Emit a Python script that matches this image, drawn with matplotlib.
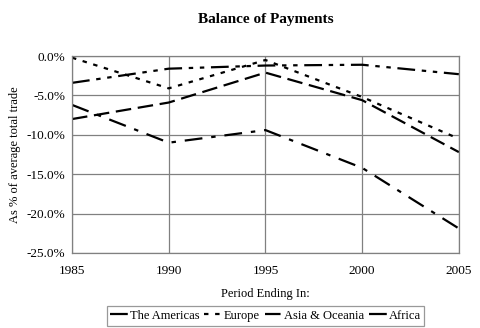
import matplotlib
matplotlib.use("Agg")
import matplotlib.pyplot as plt
from matplotlib.ticker import FuncFormatter

years = [1985, 1990, 1995, 2000, 2005]
americas = [-3.4, -1.6, -1.2, -1.1, -2.3]
europe = [-0.2, -4.1, -0.5, -5.2, -10.5]
asia = [-8.0, -5.9, -2.1, -5.6, -12.2]
africa = [-6.2, -11.0, -9.4, -14.2, -21.9]

series = [
    ("The Americas", americas, (0, (8, 3, 2, 3, 2, 3))),
    ("Europe", europe, (0, (2, 3))),
    ("Asia & Oceania", asia, (0, (7, 3))),
    ("Africa", africa, (0, (8, 4, 2, 4))),
]

plt.rcParams['font.family'] = ['Liberation Serif', 'DejaVu Serif']

fig = plt.figure(figsize=(4.8, 3.28), dpi=100)
ax = fig.add_axes([0.15, 0.229, 0.806, 0.600])

for name, vals, ls in series:
    ax.plot(years, vals, color='black', lw=1.6, linestyle=ls, label=name)

ax.set_xlim(1985, 2005)
ax.set_ylim(-25, 0)
ax.set_xticks(years)
ax.set_yticks([0, -5, -10, -15, -20, -25])
ax.yaxis.set_major_formatter(FuncFormatter(lambda v, p: f"{v:.1f}%"))
ax.grid(True, color='#808080', lw=0.9)
ax.set_axisbelow(True)
for s in ax.spines.values():
    s.set_color('#808080')
    s.set_linewidth(0.9)
ax.tick_params(length=0, labelsize=9.5, pad=5)
ax.tick_params(axis='x', pad=9)

ax.set_title("Balance of Payments", fontsize=11, fontweight='bold', pad=24)
ax.set_xlabel("Period Ending In:", fontsize=9, labelpad=8)
ax.set_ylabel("As % of average total trade", fontsize=9, labelpad=4)

leg = ax.legend(loc='upper center', bbox_to_anchor=(0.5, -0.27), ncol=4,
                fontsize=9, frameon=True, fancybox=False, edgecolor='#808080',
                handlelength=1.4, handletextpad=0.15, columnspacing=0.4,
                borderpad=0.3, borderaxespad=0)
leg.get_frame().set_linewidth(0.9)

fig.savefig("out.png", dpi=100)
